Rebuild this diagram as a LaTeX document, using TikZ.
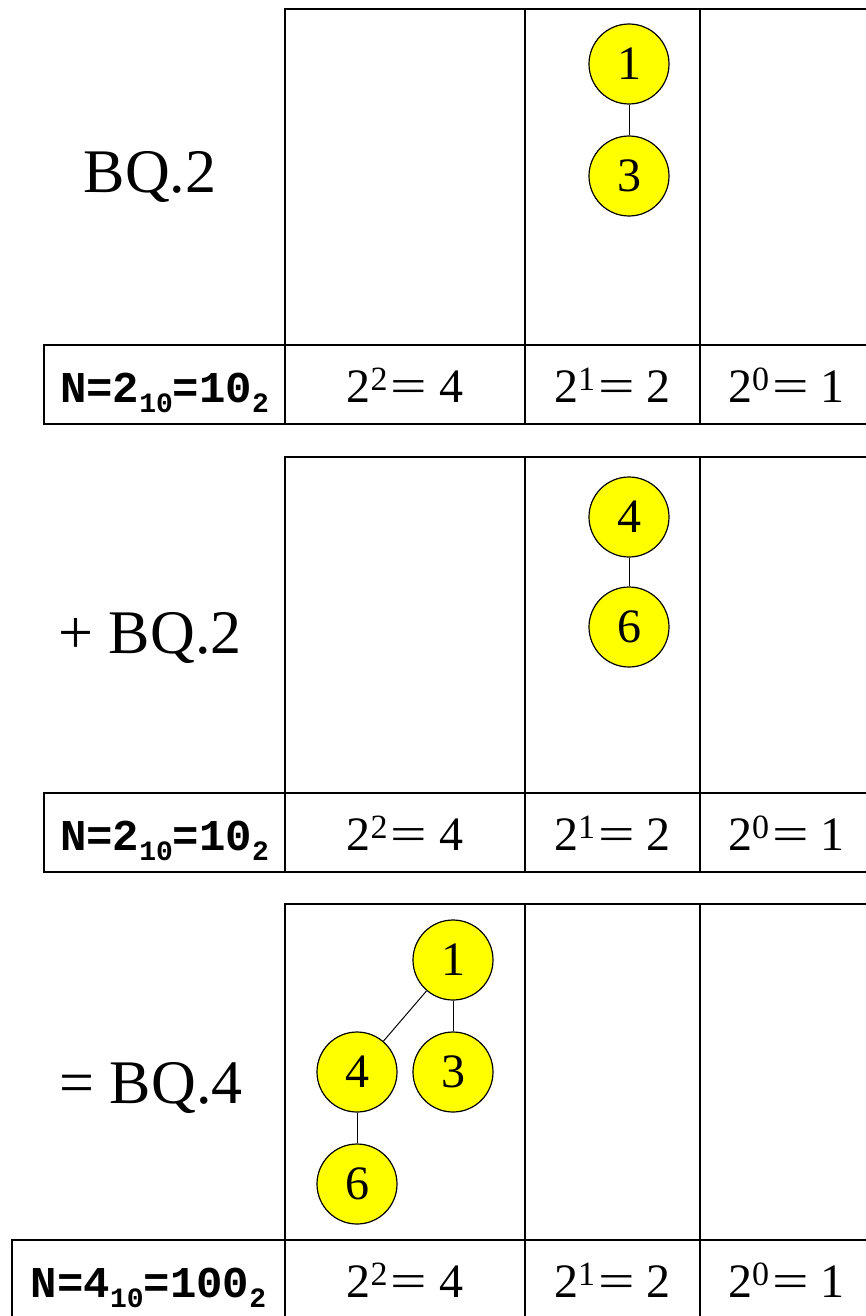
\documentclass[tikz,border=0pt]{standalone}
\usepackage{fontspec}
\usepackage{graphicx}
\setmainfont{Liberation Serif}
\setmonofont{Liberation Mono}
\definecolor{bqyellow}{RGB}{255,255,0}

\newcommand{\powup}[1]{\raisebox{12pt}{\fontsize{34}{34}\selectfont #1}}
\newcommand{\idxdown}[1]{\raisebox{-10pt}{\fontsize{28}{28}\selectfont #1}}
\newcommand{\wideeq}{\kern3pt\scalebox{1.35}[1]{=}\kern12pt}
\newcommand{\rowy}{0}
\newcommand{\bqpanel}[4]{%
    \pgfmathsetmacro{\newy}{#2 + 336}%
    \xdef\rowy{\newy}%
    \draw (285, #2) rectangle (525, \rowy);%
    \draw (525, #2) rectangle (700, \rowy);%
    \draw (700, #2) rectangle (873, \rowy);%
    \draw (#3, \rowy) rectangle (873, \rowy + 79);%
    \draw (285, \rowy) -- (285, \rowy + 79);%
    \draw (525, \rowy) -- (525, \rowy + 79);%
    \draw (700, \rowy) -- (700, \rowy + 79);%
    \node[idxtext] (#1n) at ({(#3 + 285)/2}, \rowy + 57) {#4};%
    \node[powtext] (#1four) at (405, \rowy + 57) {2\powup{2}\wideeq 4};%
    \node[powtext] (#1two) at (612.5, \rowy + 57) {2\powup{1}\wideeq 2};%
    \node[powtext] (#1one) at (786.5, \rowy + 57) {2\powup{0}\wideeq 1};%
}

\tikzset{
    bqnode/.style={circle, draw, line width=1.2pt, fill=bqyellow, minimum size=80pt,
        inner sep=0pt, font=\fontsize{48}{48}\selectfont},
    headtext/.style={anchor=base, inner sep=0pt, font=\fontsize{62}{62}\selectfont},
    powtext/.style={anchor=base, inner sep=0pt, font=\fontsize{48}{48}\selectfont},
    idxtext/.style={anchor=base, inner sep=0pt, font=\fontsize{44}{44}\selectfont\ttfamily\bfseries}
}

\begin{document}
\begin{tikzpicture}[x=1pt, y=-1pt, line width=1.5pt]

        \useasboundingbox (0, 0) rectangle (865, 1316);

        % --- Panel 1: BQ.2 ---
        \node[headtext] (head1) at (150, 193) {BQ.2};
        \bqpanel{a}{9}{44}{N=2\idxdown{10}=10\idxdown{2}}
        \node[bqnode] (a1) at (629, 64) {1};
        \node[bqnode] (a3) at (629, 176) {3};
        \draw[line width=1pt] (a1) -- (a3);

        % --- Panel 2: + BQ.2 ---
        \node[headtext] (head2) at (150, 653) {+ BQ.2};
        \bqpanel{b}{457}{44}{N=2\idxdown{10}=10\idxdown{2}}
        \node[bqnode] (b4) at (629, 517) {4};
        \node[bqnode] (b6) at (629, 627) {6};
        \draw[line width=1pt] (b4) -- (b6);

        % --- Panel 3: = BQ.4 ---
        \node[headtext] (head3) at (151, 1103) {= BQ.4};
        \bqpanel{c}{904}{12}{N=4\idxdown{10}=100\idxdown{2}}
        \node[bqnode] (c1) at (453, 960) {1};
        \node[bqnode] (c4) at (357, 1072) {4};
        \node[bqnode] (c3) at (453, 1072) {3};
        \node[bqnode] (c6) at (357, 1184) {6};
        \draw[line width=1pt] (c1) -- (c4);
        \draw[line width=1pt] (c1) -- (c3);
        \draw[line width=1pt] (c4) -- (c6);

    \end{tikzpicture}
\end{document}
